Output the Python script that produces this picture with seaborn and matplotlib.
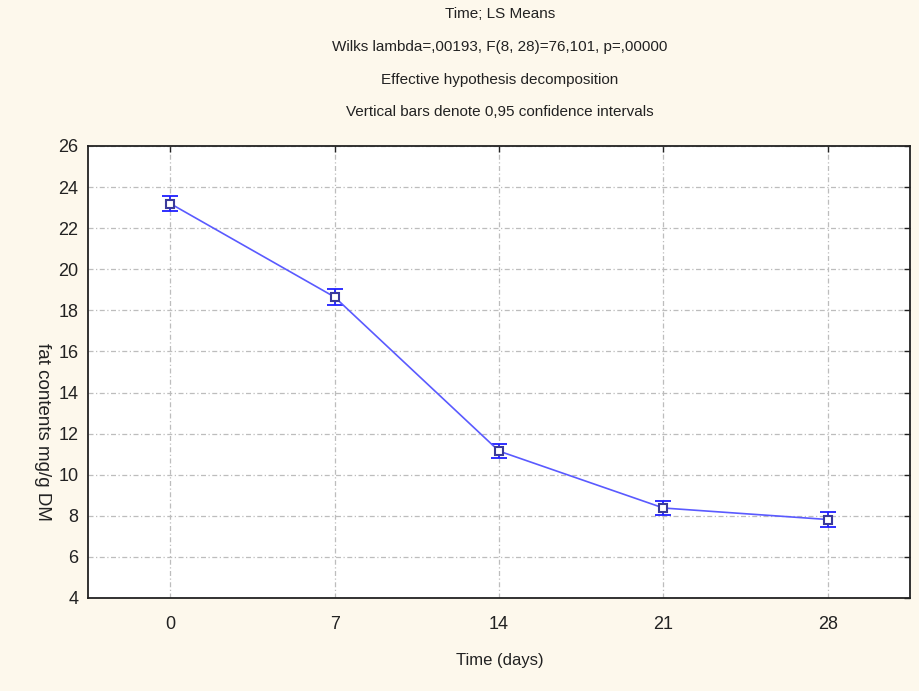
import matplotlib
matplotlib.use("Agg")
import matplotlib.pyplot as plt
import seaborn as sns
import pandas as pd
import numpy as np

# Data
time_labels = ["0", "7", "14", "21", "28"]
means = [23.2, 18.65, 11.15, 8.38, 7.82]
ci = [0.35, 0.38, 0.35, 0.35, 0.37]
y_ticks = [4, 6, 8, 10, 12, 14, 16, 18, 20, 22, 24, 26]
title_lines = ["Time; LS Means",
               "Wilks lambda=,00193, F(8, 28)=76,101, p=,00000",
               "Effective hypothesis decomposition",
               "Vertical bars denote 0,95 confidence intervals"]

sns.set_style("white")
plt.rcParams['font.family'] = ['Liberation Sans', 'DejaVu Sans']

bg = "#fdf8ec"
fig = plt.figure(figsize=(9.2, 6.91), dpi=100, facecolor=bg)
ax = fig.add_axes([88/920, 1-598/691, (910-88)/920, (598-146)/691])
ax.set_facecolor("white")

df = pd.DataFrame({"pos": np.arange(len(time_labels)), "mean": means})
line_c = "#5a5aff"
sns.lineplot(data=df, x="pos", y="mean", ax=ax, color=line_c, linewidth=1.2,
             marker="s", markersize=6, markerfacecolor="white",
             markeredgecolor="#3a3a9a", markeredgewidth=1.5, zorder=4)
ax.errorbar(df["pos"], df["mean"], yerr=ci, fmt="none", ecolor="#2020ff",
            elinewidth=1.3, capsize=6, capthick=1.3, zorder=3)

ax.set_xlim(-0.5, 4.5)
ax.set_ylim(4, 26)
ax.set_xticks(np.arange(len(time_labels)))
ax.set_xticklabels(time_labels)
ax.set_yticks(y_ticks)
ax.set_yticklabels([str(v) for v in y_ticks])
ax.grid(True, color="#bdbdbd", linestyle=(0, (4, 2, 1, 2)), linewidth=0.9)
ax.set_axisbelow(True)
for s in ax.spines.values():
    s.set_visible(True)
    s.set_color("#222222")
    s.set_linewidth(1.3)
ax.tick_params(axis="both", which="both", direction="in", length=4, width=1,
               labelsize=13, colors="#222222", top=True, right=True,
               labeltop=False, labelright=False)
ax.tick_params(axis="x", pad=13)
ax.tick_params(axis="y", pad=7)
ax.set_xlabel("")
ax.set_ylabel("")

fig.text(500/920, 1-660/691, "Time (days)", ha="center", va="center", fontsize=12, color="#222222")
fig.text(42/920, 1-432/691, "fat contents mg/g DM", ha="center", va="center",
         rotation=270, fontsize=13.5, color="#222222")

ys = [14, 47, 80, 112]
for t, y in zip(title_lines, ys):
    fig.text(500/920, 1-y/691, t, ha="center", va="center", fontsize=11, color="#222222")

fig.savefig("out.png", dpi=100, facecolor=bg)
